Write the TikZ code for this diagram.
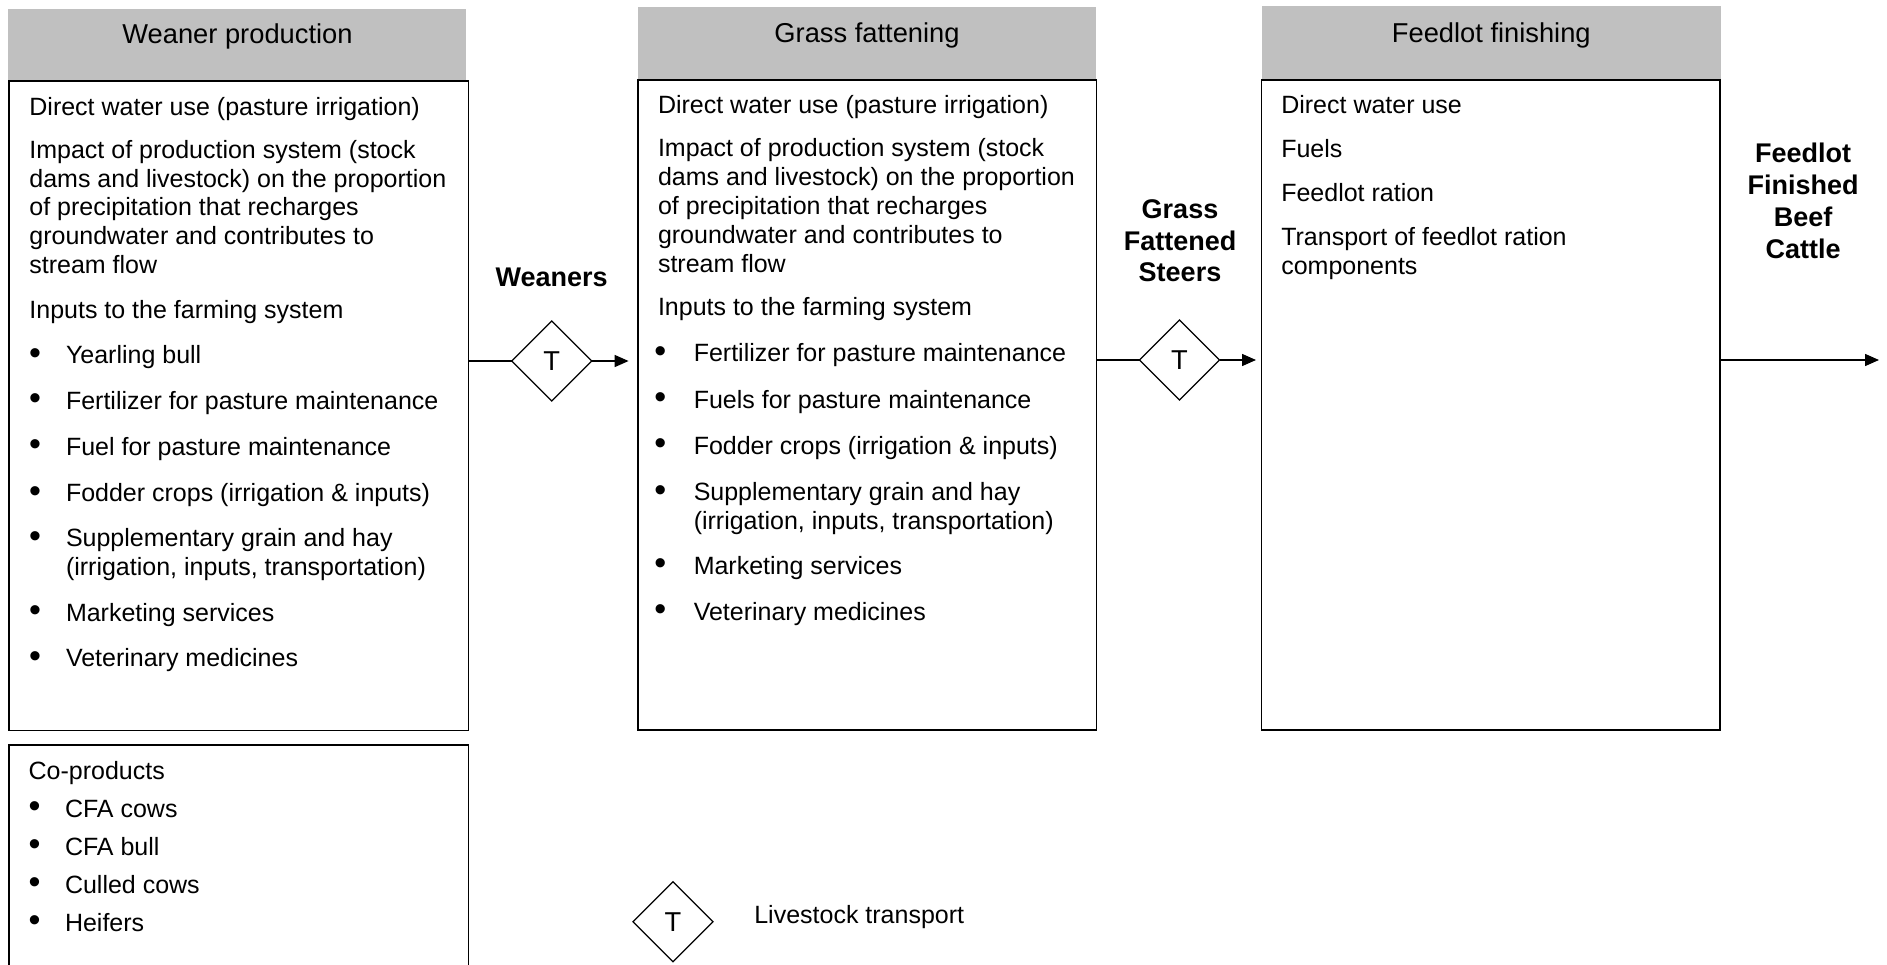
\documentclass[tikz,border=0pt]{standalone}
\usepackage{fontspec}
\setmainfont{Liberation Sans}
\usetikzlibrary{arrows.meta,shapes.geometric}
\definecolor{hdrgray}{RGB}{192,192,192}
\newcommand\fsbody{\fontsize{25}{28.75}\selectfont}
\newcommand\fstitle{\fontsize{27.3}{31}\selectfont}
\newcommand\fslab{\fontsize{27}{31.7}\selectfont\bfseries}
\newcommand\fsbul{\fontsize{34}{34}\selectfont}
\begin{document}
\begin{tikzpicture}[x=1pt,y=-1pt,
  box/.style={draw=black,line width=1.5pt,inner sep=0pt,outer sep=0pt,fill=white},
  hdr/.style={fill=hdrgray,draw=none,inner sep=0pt,outer sep=0pt},
  tx/.style={anchor=base west,inner sep=0pt,outer sep=0pt,font=\fsbody},
  ttl/.style={anchor=base,inner sep=0pt,outer sep=0pt,font=\fstitle},
  lab/.style={anchor=base,inner sep=0pt,outer sep=0pt,font=\fslab},
  bul/.style={inner sep=0pt,outer sep=0pt,font=\fsbul},
  dia/.style={draw=black,shape=diamond,line width=1.3pt,inner sep=0pt,outer sep=0pt,
    minimum width=80pt,minimum height=80pt,font=\fstitle},
  conn/.style={draw=black,line width=1.5pt},
  tip/.style={-{Triangle[length=14pt,width=12pt]}}
]
\useasboundingbox (0,0) rectangle (1887,964);
\fill[white] (0,0) rectangle (1887,964);

% headers
\node[hdr,minimum width=457.8pt,minimum height=72pt] (h1) at (237.1,45) {};
\node[hdr,minimum width=458pt,minimum height=73.3pt] (h2) at (867,43.35) {};
\node[hdr,minimum width=459pt,minimum height=74pt] (h3) at (1491.5,43) {};
\node[ttl] (t1) at (237.5,43.8) {Weaner production};
\node[ttl] (t2) at (867,42.2) {Grass fattening};
\node[ttl] (t3) at (1491.3,42.2) {Feedlot finishing};

% boxes
\node[box,minimum width=459.6pt,minimum height=649.7pt] (b1) at (238.8,405.85) {};
\node[box,minimum width=458.4pt,minimum height=650pt] (b2) at (867.2,405) {};
\node[box,minimum width=458.5pt,minimum height=650pt] (b3) at (1490.75,405) {};
\node[box,minimum width=459.6pt,minimum height=235pt] (b4) at (238.8,862.5) {};

% box 1 text
\node[tx] (a1) at (29.4,115.3) {Direct water use (pasture irrigation)};
\node[tx] (a2) at (29.4,158.3) {Impact of production system (stock};
\node[tx] (a3) at (29.4,187) {dams and livestock) on the proportion};
\node[tx] (a4) at (29.4,215.8) {of precipitation that recharges};
\node[tx] (a5) at (29.4,244.5) {groundwater and contributes to};
\node[tx] (a6) at (29.4,273.3) {stream flow};
\node[tx] (a7) at (29.4,318.3) {Inputs to the farming system};
\node[bul] (ab1) at (35,356.3) {•};
\node[tx] (ai1) at (66,363.3) {Yearling bull};
\node[bul] (ab2) at (35,402) {•};
\node[tx] (ai2) at (66,409) {Fertilizer for pasture maintenance};
\node[bul] (ab3) at (35,448) {•};
\node[tx] (ai3) at (66,455) {Fuel for pasture maintenance};
\node[bul] (ab4) at (35,494.7) {•};
\node[tx] (ai4) at (66,501.7) {Fodder crops (irrigation \& inputs)};
\node[bul] (ab5) at (35,539.7) {•};
\node[tx] (ai5) at (66,546.7) {Supplementary grain and hay};
\node[tx] (ai5b) at (66,575.5) {(irrigation, inputs, transportation)};
\node[bul] (ab6) at (35,614) {•};
\node[tx] (ai6) at (66,621) {Marketing services};
\node[bul] (ab7) at (35,659.7) {•};
\node[tx] (ai7) at (66,666.7) {Veterinary medicines};

% co-products
\node[tx] (c0) at (28.6,779) {Co-products};
\node[bul] (cb1) at (34.5,810) {•};
\node[tx] (c1) at (65,817) {CFA cows};
\node[bul] (cb2) at (34.5,848) {•};
\node[tx] (c2) at (65,855) {CFA bull};
\node[bul] (cb3) at (34.5,886) {•};
\node[tx] (c3) at (65,893) {Culled cows};
\node[bul] (cb4) at (34.5,924) {•};
\node[tx] (c4) at (65,931) {Heifers};

% box 2 text
\node[tx] (g1) at (658,113.3) {Direct water use (pasture irrigation)};
\node[tx] (g2) at (658,156.7) {Impact of production system (stock};
\node[tx] (g3) at (658,185.5) {dams and livestock) on the proportion};
\node[tx] (g4) at (658,214.2) {of precipitation that recharges};
\node[tx] (g5) at (658,243) {groundwater and contributes to};
\node[tx] (g6) at (658,272) {stream flow};
\node[tx] (g7) at (658,315) {Inputs to the farming system};
\node[bul] (gb1) at (660.3,354.7) {•};
\node[tx] (gi1) at (693.75,361.7) {Fertilizer for pasture maintenance};
\node[bul] (gb2) at (660.3,401) {•};
\node[tx] (gi2) at (693.75,408) {Fuels for pasture maintenance};
\node[bul] (gb3) at (660.3,447) {•};
\node[tx] (gi3) at (693.75,454) {Fodder crops (irrigation \& inputs)};
\node[bul] (gb4) at (660.3,493.7) {•};
\node[tx] (gi4) at (693.75,500.7) {Supplementary grain and hay};
\node[tx] (gi4b) at (693.75,529) {(irrigation, inputs, transportation)};
\node[bul] (gb5) at (660.3,567) {•};
\node[tx] (gi5) at (693.75,574) {Marketing services};
\node[bul] (gb6) at (660.3,613) {•};
\node[tx] (gi6) at (693.75,620) {Veterinary medicines};

% box 3 text
\node[tx] (f1) at (1281.3,113.3) {Direct water use};
\node[tx] (f2) at (1281.3,157.3) {Fuels};
\node[tx] (f3) at (1281.3,201.7) {Feedlot ration};
\node[tx] (f4) at (1281.3,245.7) {Transport of feedlot ration};
\node[tx] (f5) at (1281.3,274) {components};

% flow labels
\node[lab] (l1) at (551.7,286.7) {Weaners};
\node[lab] (l2a) at (1180,218) {Grass};
\node[lab] (l2b) at (1180,250) {Fattened};
\node[lab] (l2c) at (1180,281.7) {Steers};
\node[lab] (l3a) at (1803,162.3) {Feedlot};
\node[lab] (l3b) at (1803,194.7) {Finished};
\node[lab] (l3c) at (1803,226.7) {Beef};
\node[lab] (l3d) at (1803,258.3) {Cattle};

% diamonds and connectors
\node[dia] (d1) at (551.8,361) {T};
\node[dia] (d2) at (1179.5,360) {T};
\coordinate (out) at (1879,360);
\draw[conn] (d1.west -| b1.east) -- (d1.west);
\draw[conn,tip] (d1.east) -- ([xshift=-9.4pt]d1.east -| b2.west);
\draw[conn] (d2.west -| b2.east) -- (d2.west);
\draw[conn,tip] (d2.east) -- ([xshift=-5.5pt]d2.east -| b3.west);
\draw[conn,tip] (out -| b3.east) -- (out);

% legend
\node[dia] (dl) at (673,921.7) {T};
\node[tx] (lt) at (754.3,923.3) {Livestock transport};
\end{tikzpicture}
\end{document}
